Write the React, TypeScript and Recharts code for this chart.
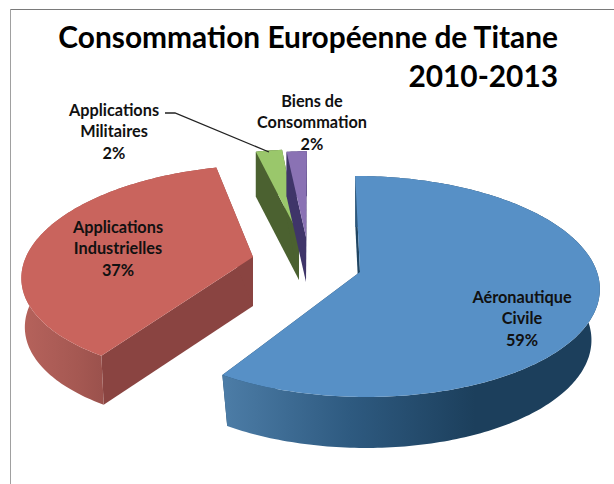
import { Pie, PieChart } from 'recharts'

const CATEGORIES = ['Aéronautique Civile', 'Applications Industrielles', 'Applications Militaires', 'Biens de Consommation']
const VALUES = [59, 37, 2, 2]
const LABEL_LINES = [['Aéronautique', 'Civile'], ['Applications', 'Industrielles'], ['Applications', 'Militaires'], ['Biens de', 'Consommation']]

const chartData = CATEGORIES.map((name, i) => ({ name, value: VALUES[i] }))

// per-slice look of the fake 3D pie
const SLICE_LOOK = [
  { dx: 0, dy: 0, rx: 1, ry: 108.6, skew: 0.05, depth: 51, shrink: 0.965, top: '#5790c6', cut: '#1f4562', wall: ['#4c7ca6', '#2e5a80', '#1c3f5c', '#1c3f5c'], wallFrom: 225, wallTo: 600 },
  { dx: -107, dy: -15, rx: 0.958, ry: 104, skew: -0.15, depth: 49, shrink: 0.985, top: '#c9645d', cut: '#8a4441', wall: ['#b5625b', '#ad5d57', '#a55852', '#9a514c'], wallFrom: 24, wallTo: 105 },
  { dx: -61, dy: -37, rx: 1, ry: 97, skew: -0.11, depth: 45, shrink: 1, top: '#9ac76b', cut: '#4b6130', wall: ['#4b6130', '#4b6130', '#4b6130', '#4b6130'], wallFrom: 250, wallTo: 300 },
  { dx: -54, dy: -35, rx: 0.77, ry: 97, skew: -0.01, depth: 45, shrink: 1, top: '#8a72b4', cut: '#3f3569', wall: ['#3f3569', '#3f3569', '#3f3569', '#3f3569'], wallFrom: 285, wallTo: 310 },
]
const LABEL_SPOTS = [
  { x: 522, y: 296 },
  { x: 118, y: 226 },
  { x: 114, y: 109 },
  { x: 312, y: 100 },
]
const PERSPECTIVE = 0.131
const LABEL_FONT = 'Lato, "Noto Sans", sans-serif'

function project(angle: number, look: (typeof SLICE_LOOK)[number], radius: number, drop = 0, scale = 1) {
  const rad = (angle * Math.PI) / 180
  const u = Math.cos(rad)
  const v = -Math.sin(rad)
  const w = 1 - PERSPECTIVE * v
  const y = (look.ry * v) / w
  const x = (radius * look.rx * u) / w + look.skew * y
  return { x: x * scale, y: y + drop }
}

function toPath(points: { x: number; y: number }[]) {
  return points.map((p, i) => `${i === 0 ? 'M' : 'L'}${p.x.toFixed(2)} ${p.y.toFixed(2)}`).join(' ') + ' Z'
}

function Slice3D(props: any) {
  const { cx, cy, outerRadius, startAngle, endAngle } = props
  const index = CATEGORIES.indexOf(props.name ?? props.payload?.name)
  const look = SLICE_LOOK[index]
  const ox = cx + look.dx
  const oy = cy + look.dy
  const steps = Math.max(4, Math.ceil(Math.abs(endAngle - startAngle)))
  const angles = Array.from({ length: steps + 1 }, (_, i) => startAngle + ((endAngle - startAngle) * i) / steps)
  const upper = angles.map((a) => project(a, look, outerRadius))
  const lower = angles.map((a) => project(a, look, outerRadius, look.depth, look.shrink))
  const apex = { x: 0, y: 0 }
  const apexLow = { x: 0, y: look.depth }
  const gradId = `wall-${index}`
  return (
    <g transform={`translate(${ox} ${oy})`}>
      <defs>
        <linearGradient id={gradId} gradientUnits="userSpaceOnUse" x1={look.wallFrom - ox} x2={look.wallTo - ox} y1="0" y2="0">
          {look.wall.map((c, i) => (
            <stop key={i} offset={`${(i * 100) / (look.wall.length - 1)}%`} stopColor={c} />
          ))}
        </linearGradient>
      </defs>
      {/* cut faces first, the rim and the top cover what should stay hidden */}
      <path d={toPath([apex, upper[0], lower[0], apexLow])} fill={look.cut} />
      <path d={toPath([apex, upper[steps], lower[steps], apexLow])} fill={look.cut} />
      <path d={toPath([...upper, ...[...lower].reverse()])} fill={`url(#${gradId})`} />
      <path d={toPath([apex, ...upper])} fill={look.top} />
    </g>
  )
}

function renderLabel(props: any) {
  const { index, value } = props
  const spot = LABEL_SPOTS[index]
  const lines = [...LABEL_LINES[index], `${value}%`]
  return (
    <g key={index}>
      {lines.map((line, i) => (
        <text
          key={i}
          x={spot.x}
          y={spot.y + i * 21.5}
          textAnchor="middle"
          dominantBaseline="central"
          fontFamily={LABEL_FONT}
          fontWeight={700}
          fontSize={16.3}
          fill="#111"
        >
          {line}
        </text>
      ))}
      {index === 2 && <polyline points="165,113 175,113 269,152" fill="none" stroke="#222" strokeWidth={1.3} />}
    </g>
  )
}

const titleStyle = {
  position: 'absolute' as const,
  right: 56,
  fontFamily: LABEL_FONT,
  fontWeight: 700,
  fontSize: 29.85,
  lineHeight: '36px',
  color: '#000',
  whiteSpace: 'nowrap' as const,
}

export default function App() {
  return (
    <div style={{ position: 'absolute', left: 0, top: 0, width: 614, height: 484, background: '#fff', overflow: 'hidden' }}>
      <div style={{ position: 'absolute', left: 10, top: 9, right: 0, height: 1, background: '#7a7a7a' }} />
      <div style={{ position: 'absolute', left: 10, top: 9, bottom: 0, width: 1, background: '#a0a0a0' }} />
      <div style={{ ...titleStyle, top: 19 }}>Consommation Européenne de Titane</div>
      <div style={{ ...titleStyle, top: 58 }}>2010-2013</div>
      <div style={{ position: 'absolute', left: 0, top: 0 }}>
        <PieChart width={614} height={484} margin={{ top: 0, right: 0, bottom: 0, left: 0 }}>
          <Pie
            data={chartData}
            dataKey="value"
            nameKey="name"
            cx={360}
            cy={272}
            innerRadius={0}
            outerRadius={237}
            startAngle={90}
            endAngle={-270}
            stroke="none"
            shape={Slice3D}
            label={renderLabel}
            labelLine={false}
            isAnimationActive={false}
          />
        </PieChart>
      </div>
    </div>
  )
}
